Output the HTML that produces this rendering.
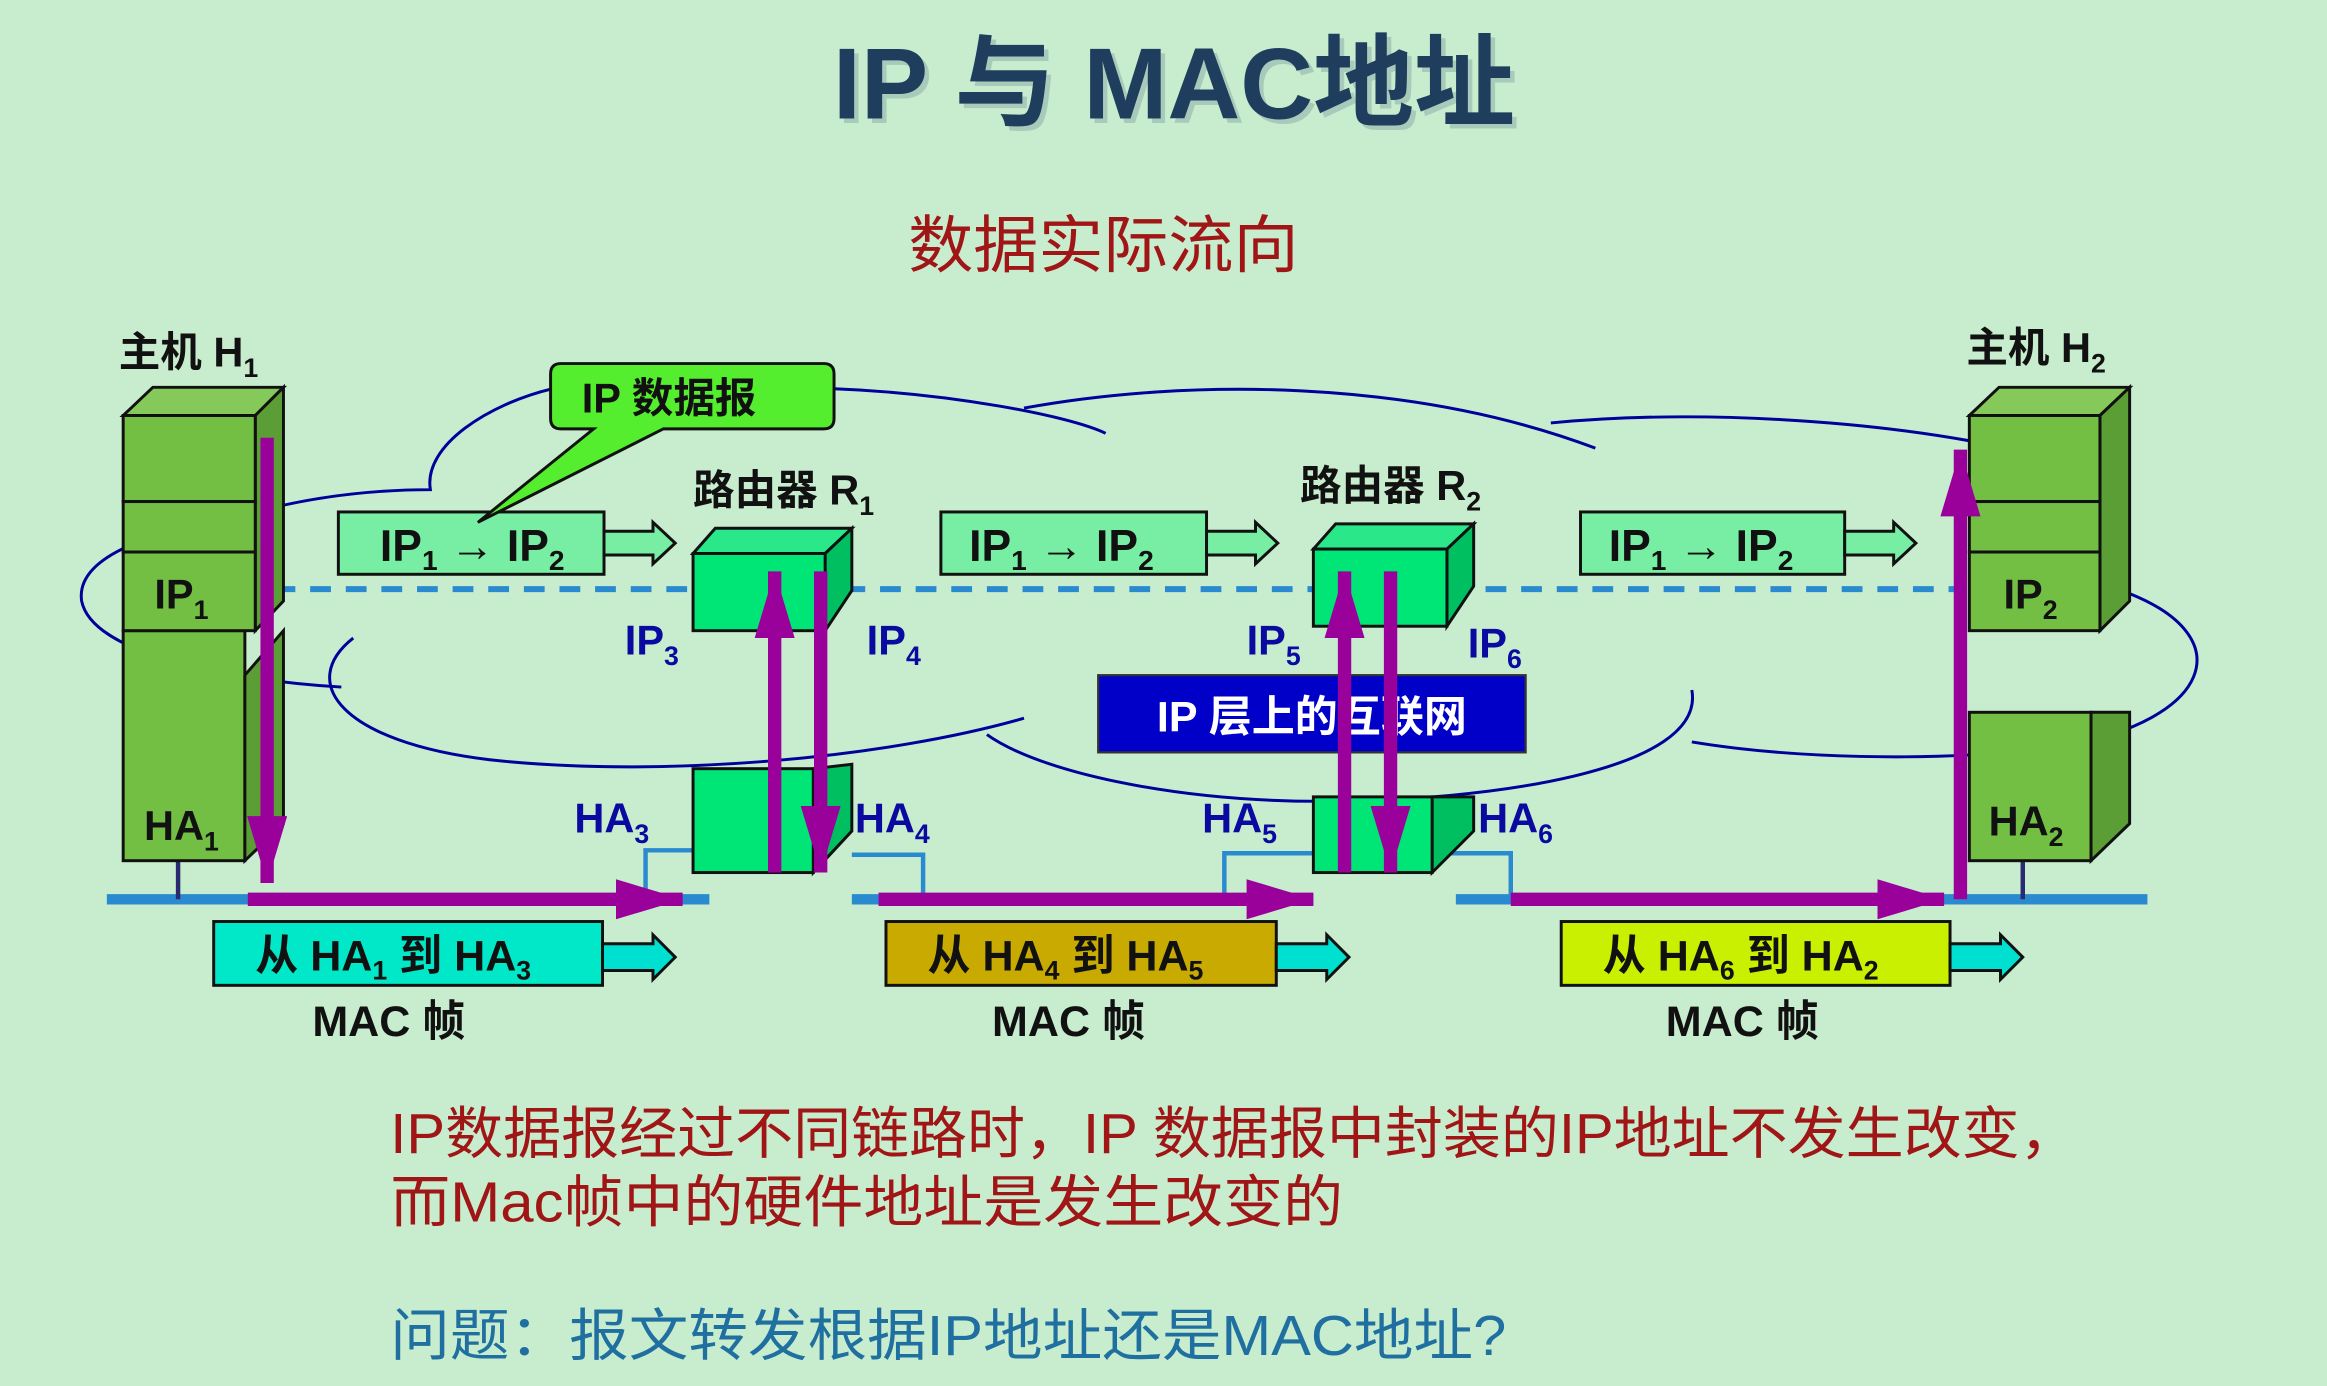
<!DOCTYPE html>
<html><head><meta charset="utf-8"><style>
html,body{margin:0;padding:0;background:#c8ecce;}
svg{display:block}
text{font-family:"Liberation Sans","Noto Sans CJK SC",sans-serif;}
</style></head><body>
<svg width="2327" height="1386" viewBox="0 0 1568 934" preserveAspectRatio="none" xmlns="http://www.w3.org/2000/svg">
<rect width="1568" height="934" fill="#c8ecce"/>
<defs>
<marker id="ph" markerWidth="5" markerHeight="3" refX="5" refY="1.5" orient="auto" markerUnits="strokeWidth"><path d="M0,0 L5,1.5 L0,3 z" fill="#9a009a"/></marker>
</defs>
<!-- title -->
<text x="791" y="80" text-anchor="middle" font-size="68" font-weight="bold" fill="#8aa" opacity="0.5" transform="translate(3,3)">IP 与 MAC地址</text>
<text x="791" y="80" text-anchor="middle" font-size="68" font-weight="bold" fill="#1f3d5c">IP 与 MAC地址</text>
<text x="612" y="180" font-size="42" fill="#a01515" textLength="263" lengthAdjust="spacingAndGlyphs">数据实际流向</text>

<!-- cloud -->
<g fill="none" stroke="#00009a" stroke-width="2">
<path d="M172,345 C120,355 50,370 55,405 C62,440 150,458 230,463"/>
<path d="M172,345 C210,335 250,330 290,330 C285,300 330,272 372,262"/>
<path d="M562,262 C640,265 720,280 745,292"/>
<path d="M690,275 C800,255 950,255 1075,302"/>
<path d="M1045,285 C1150,275 1260,285 1327,297"/>
<path d="M1435,400 C1510,430 1490,485 1390,503 C1300,515 1200,510 1140,500"/>
<path d="M238,430 C200,460 230,500 330,512 C450,525 600,510 690,484"/>
<path d="M1140,465 C1150,520 1000,540 890,540 C790,540 700,520 665,495"/>
</g>

<!-- dashed line -->
<line x1="185" y1="397" x2="1325" y2="397" stroke="#2a8ad0" stroke-width="4" stroke-dasharray="14,10"/>

<!-- network lines -->
<g stroke="#2a8ad0" stroke-width="7"><line x1="72" y1="606" x2="478" y2="606"/><line x1="574" y1="606" x2="885" y2="606"/><line x1="981" y1="606" x2="1447" y2="606"/></g>
<g stroke="#2a8ad0" stroke-width="3" fill="none">
<path d="M467,573 L435,573 L435,606"/><path d="M574,576 L622,576 L622,606"/>
<path d="M885,575 L825,575 L825,606"/><path d="M965,575 L1018,575 L1018,606"/>
</g>
<g stroke="#2a2a70" stroke-width="3"><line x1="120" y1="580" x2="120" y2="606"/><line x1="1363" y1="580" x2="1363" y2="606"/></g>

<!-- Host H1 -->
<g stroke="#111" stroke-width="2">
<rect x="83" y="425" width="82" height="155" fill="#72bf44"/>
<polygon points="165,455 191,425 191,555 165,580" fill="#5a9e35"/>
<polygon points="83,280 103,261 191,261 172,280" fill="#84c95a"/>
<polygon points="172,280 191,261 191,405 172,425" fill="#5a9e35"/>
<rect x="83" y="280" width="89" height="58" fill="#72bf44"/>
<rect x="83" y="338" width="89" height="34" fill="#72bf44"/>
<rect x="83" y="372" width="89" height="53" fill="#72bf44"/>
</g>
<!-- Host H2 -->
<g stroke="#111" stroke-width="2">
<rect x="1327" y="480" width="82" height="100" fill="#72bf44"/>
<polygon points="1409,580 1435,555 1435,480 1409,480" fill="#5a9e35"/>
<polygon points="1327,280 1347,261 1435,261 1415,280" fill="#84c95a"/>
<polygon points="1415,280 1435,261 1435,405 1415,425" fill="#5a9e35"/>
<rect x="1327" y="280" width="88" height="58" fill="#72bf44"/>
<rect x="1327" y="338" width="88" height="34" fill="#72bf44"/>
<rect x="1327" y="372" width="88" height="53" fill="#72bf44"/>
</g>
<!-- Router R1 -->
<g stroke="#111" stroke-width="2">
<polygon points="467,373 482,356 574,356 556,373" fill="#2ae88a"/>
<polygon points="556,373 574,356 574,398 556,425" fill="#00bf60"/>
<rect x="467" y="373" width="89" height="52" fill="#00e676"/>
<polygon points="548,518 574,515 574,560 548,588" fill="#00bf60"/>
<rect x="467" y="518" width="81" height="70" fill="#00e676"/>
</g>
<!-- Router R2 -->
<g stroke="#111" stroke-width="2">
<polygon points="885,370 900,353 993,353 975,370" fill="#2ae88a"/>
<polygon points="975,370 993,353 993,395 975,422" fill="#00bf60"/>
<rect x="885" y="370" width="90" height="52" fill="#00e676"/>
<polygon points="965,537 993,537 993,560 965,588" fill="#00bf60"/>
<rect x="885" y="537" width="80" height="51" fill="#00e676"/>
</g>

<!-- labels black -->
<g font-weight="bold" fill="#111" font-size="28">
<text x="80" y="247">主机 H<tspan font-size="18" dy="7">1</tspan></text>
<text x="1325" y="244">主机 H<tspan font-size="18" dy="7">2</tspan></text>
<text x="467" y="340">路由器 R<tspan font-size="18" dy="7">1</tspan></text>
<text x="876" y="337">路由器 R<tspan font-size="18" dy="7">2</tspan></text>
<text x="104" y="410">IP<tspan font-size="18" dy="7">1</tspan></text>
<text x="1350" y="410">IP<tspan font-size="18" dy="7">2</tspan></text>
<text x="97" y="566">HA<tspan font-size="18" dy="7">1</tspan></text>
<text x="1340" y="563">HA<tspan font-size="18" dy="7">2</tspan></text>
</g>
<!-- labels blue -->
<g font-weight="bold" fill="#0a0aa0" font-size="28">
<text x="421" y="441">IP<tspan font-size="18" dy="7">3</tspan></text>
<text x="584" y="441">IP<tspan font-size="18" dy="7">4</tspan></text>
<text x="840" y="441">IP<tspan font-size="18" dy="7">5</tspan></text>
<text x="989" y="443">IP<tspan font-size="18" dy="7">6</tspan></text>
<text x="387" y="561">HA<tspan font-size="18" dy="7">3</tspan></text>
<text x="576" y="561">HA<tspan font-size="18" dy="7">4</tspan></text>
<text x="810" y="561">HA<tspan font-size="18" dy="7">5</tspan></text>
<text x="996" y="561">HA<tspan font-size="18" dy="7">6</tspan></text>
</g>

<!-- IP boxes -->
<g stroke="#111" stroke-width="2" fill="#78eea4">
<rect x="228" y="345" width="179" height="42"/><polygon points="407,358 440,358 440,352 455,366 440,380 440,374 407,374"/>
<rect x="634" y="345" width="179" height="42"/><polygon points="813,358 846,358 846,352 861,366 846,380 846,374 813,374"/>
<rect x="1065" y="345" width="178" height="42"/><polygon points="1243,358 1276,358 1276,352 1291,366 1276,380 1276,374 1243,374"/>
</g>
<g font-weight="bold" fill="#111" font-size="30">
<text x="256" y="378">IP<tspan font-size="19" dy="6">1</tspan><tspan dy="-6"> → IP</tspan><tspan font-size="19" dy="6">2</tspan></text>
<text x="653" y="378">IP<tspan font-size="19" dy="6">1</tspan><tspan dy="-6"> → IP</tspan><tspan font-size="19" dy="6">2</tspan></text>
<text x="1084" y="378">IP<tspan font-size="19" dy="6">1</tspan><tspan dy="-6"> → IP</tspan><tspan font-size="19" dy="6">2</tspan></text>
</g>

<!-- callout -->
<path d="M378,245 L555,245 Q562,245 562,252 L562,282 Q562,289 555,289 L447,289 L322,352 L400,289 L378,289 Q371,289 371,282 L371,252 Q371,245 378,245 z" fill="#55ee2e" stroke="#111" stroke-width="2"/>
<text x="392" y="278" font-size="28" font-weight="bold" fill="#111">IP 数据报</text>

<!-- blue box -->
<rect x="740" y="455" width="288" height="52" fill="#0000c8" stroke="#333" stroke-width="1.5"/>
<text x="884" y="493" text-anchor="middle" font-size="29" font-weight="bold" fill="#fff">IP 层上的互联网</text>

<!-- purple arrows -->
<g stroke="#9a009a" stroke-width="9" fill="none" marker-end="url(#ph)">
<line x1="180" y1="295" x2="180" y2="595"/>
<line x1="167" y1="606" x2="460" y2="606"/>
<line x1="522" y1="588" x2="522" y2="385"/>
<line x1="553" y1="385" x2="553" y2="588"/>
<line x1="592" y1="606" x2="885" y2="606"/>
<line x1="906" y1="588" x2="906" y2="385"/>
<line x1="937" y1="385" x2="937" y2="588"/>
<line x1="1018" y1="606" x2="1310" y2="606"/>
<line x1="1321" y1="606" x2="1321" y2="303"/>
</g>

<!-- frame boxes -->
<g stroke="#111" stroke-width="2">
<rect x="144" y="621" width="262" height="43" fill="#00e8c8"/><polygon points="406,636 440,636 440,630 455,645 440,660 440,654 406,654" fill="#00e0d0"/>
<rect x="597" y="621" width="263" height="43" fill="#c8aa00"/><polygon points="860,636 894,636 894,630 909,645 894,660 894,654 860,654" fill="#00e0d0"/>
<rect x="1052" y="621" width="262" height="43" fill="#c8f000"/><polygon points="1314,636 1348,636 1348,630 1363,645 1348,660 1348,654 1314,654" fill="#00e0d0"/>
</g>
<g font-weight="bold" fill="#111" font-size="29">
<text x="172" y="654">从 HA<tspan font-size="18" dy="6">1</tspan><tspan dy="-6"> 到 HA</tspan><tspan font-size="18" dy="6">3</tspan></text>
<text x="625" y="654">从 HA<tspan font-size="18" dy="6">4</tspan><tspan dy="-6"> 到 HA</tspan><tspan font-size="18" dy="6">5</tspan></text>
<text x="1080" y="654">从 HA<tspan font-size="18" dy="6">6</tspan><tspan dy="-6"> 到 HA</tspan><tspan font-size="18" dy="6">2</tspan></text>
<text x="262" y="698" text-anchor="middle">MAC 帧</text>
<text x="720" y="698" text-anchor="middle">MAC 帧</text>
<text x="1174" y="698" text-anchor="middle">MAC 帧</text>
</g>

<!-- bottom text -->
<g font-size="38" fill="#a01515">
<text x="263" y="777" textLength="1137" lengthAdjust="spacingAndGlyphs">IP数据报经过不同链路时，IP 数据报中封装的IP地址不发生改变，</text>
<text x="263" y="823" textLength="642" lengthAdjust="spacingAndGlyphs">而Mac帧中的硬件地址是发生改变的</text>
</g>
<text x="263" y="913" font-size="38" fill="#1f6fa0" textLength="752" lengthAdjust="spacingAndGlyphs">问题：报文转发根据IP地址还是MAC地址?</text>
</svg>
</body></html>
